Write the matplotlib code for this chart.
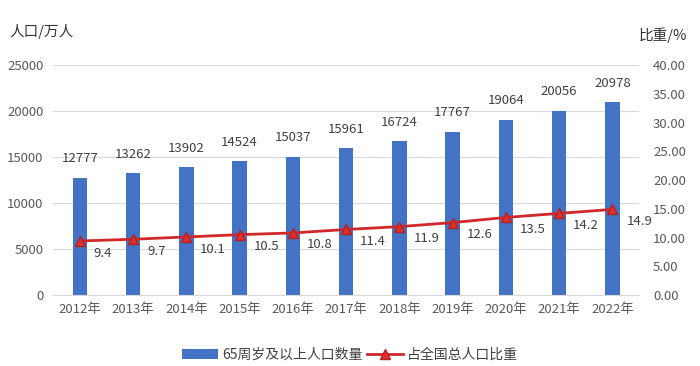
import matplotlib.pyplot as plt
import numpy as np

plt.rcParams['font.family'] = ['Noto Sans CJK SC', 'DejaVu Sans']

# data
years = ['2012年', '2013年', '2014年', '2015年', '2016年', '2017年',
         '2018年', '2019年', '2020年', '2021年', '2022年']
population = [12777, 13262, 13902, 14524, 15037, 15961, 16724, 17767, 19064, 20056, 20978]
share = [9.4, 9.7, 10.1, 10.5, 10.8, 11.4, 11.9, 12.6, 13.5, 14.2, 14.9]

left_ticks = [0, 5000, 10000, 15000, 20000, 25000]
right_ticks = [0, 5, 10, 15, 20, 25, 30, 35, 40]

txt = '#595959'
blue = '#4472C4'
red = '#D0282A'

fig = plt.figure(figsize=(7, 3.66), dpi=100)
ax = fig.add_axes([0.076, 0.194, 0.837, 0.628])
x = np.arange(len(years))

# bars
ax.bar(x, population, width=0.27, color=blue, zorder=2,
       label='65周岁及以上人口数量')
for xi, v in zip(x, population):
    ax.annotate(str(v), (xi, v), xytext=(0, 9), textcoords='offset points',
                ha='center', va='bottom', fontsize=9.5, color='#404040')

ax.set_xlim(-0.5, len(years) - 0.5)
ax.set_ylim(0, 25000)
ax.set_yticks(left_ticks)
ax.set_xticks(x)
ax.set_xticklabels(years)
ax.grid(axis='y', color='#D9D9D9', linewidth=0.8, zorder=0)
ax.tick_params(axis='both', length=0, labelsize=9.5, colors=txt)
ax.tick_params(axis='x', pad=6)
ax.tick_params(axis='y', pad=7)
for s in ax.spines.values():
    s.set_visible(False)
ax.spines['bottom'].set_visible(True)
ax.spines['bottom'].set_color('#D9D9D9')

# line on secondary axis
ax2 = ax.twinx()
ax2.plot(x, share, color=red, linewidth=2, marker='^', markersize=7,
         markerfacecolor='#E0302A', markeredgecolor='#B22222', zorder=3,
         label='占全国总人口比重')
for xi, v in zip(x, share):
    ax2.annotate(f'{v}', (xi, v), xytext=(10, -4), textcoords='offset points',
                 ha='left', va='top', fontsize=9.5, color='#404040')
ax2.set_ylim(0, 40)
ax2.set_yticks(right_ticks)
ax2.set_yticklabels([f'{t:.2f}' for t in right_ticks])
ax2.tick_params(axis='y', length=0, labelsize=9.5, colors=txt, pad=10)
for s in ax2.spines.values():
    s.set_visible(False)

# axis titles
fig.text(0.014, 0.915, '人口/万人', fontsize=10.5, color='#333333', va='center')
fig.text(0.913, 0.905, '比重/%', fontsize=10.5, color='#333333', va='center')

# legend
h1, l1 = ax.get_legend_handles_labels()
h2, l2 = ax2.get_legend_handles_labels()
fig.legend(h1 + h2, l1 + l2, loc='center', bbox_to_anchor=(0.5, 0.03),
           ncol=2, frameon=False, fontsize=10, labelcolor='#404040',
           handlelength=2.6, columnspacing=0.3, handletextpad=0.3)

fig.savefig('out.png', dpi=100)
